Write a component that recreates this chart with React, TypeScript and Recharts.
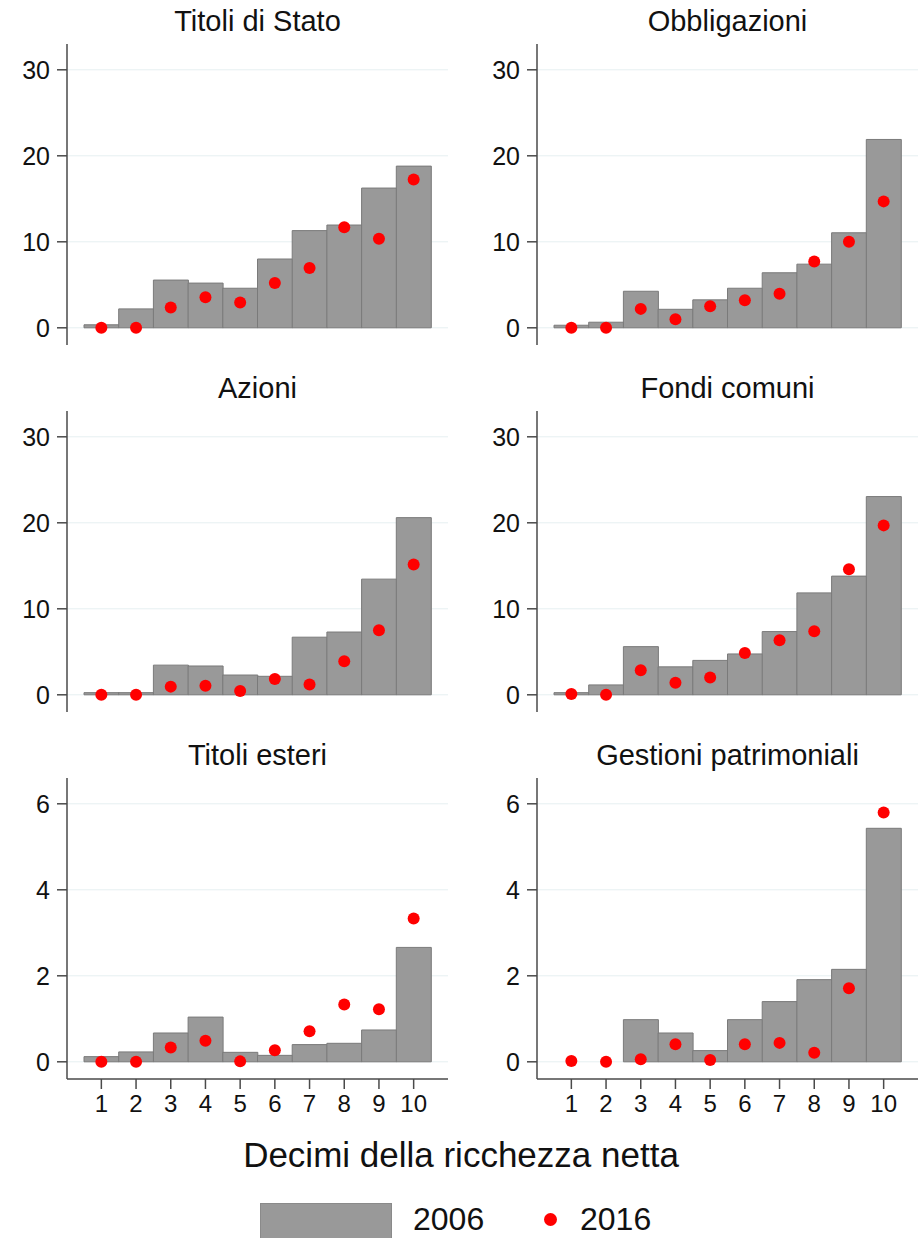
import { ComposedChart, Bar, Scatter, XAxis, YAxis, CartesianGrid } from 'recharts';

const deciles = ['1', '2', '3', '4', '5', '6', '7', '8', '9', '10'];

// quote per decile (2006 = barre, 2016 = punti)
const titoliStato2006 = [0.35, 2.2, 5.55, 5.2, 4.6, 8.0, 11.3, 11.95, 16.25, 18.8];
const titoliStato2016 = [0, 0, 2.35, 3.55, 2.95, 5.2, 6.95, 11.7, 10.35, 17.25];
const obbligazioni2006 = [0.3, 0.65, 4.25, 2.15, 3.25, 4.6, 6.4, 7.4, 11.05, 21.9];
const obbligazioni2016 = [0, 0, 2.2, 1.0, 2.5, 3.2, 3.95, 7.7, 10.0, 14.7];
const azioni2006 = [0.25, 0.25, 3.45, 3.35, 2.3, 2.15, 6.7, 7.3, 13.45, 20.6];
const azioni2016 = [0, 0, 0.95, 1.05, 0.45, 1.85, 1.2, 3.9, 7.5, 15.15];
const fondi2006 = [0.25, 1.15, 5.6, 3.25, 4.0, 4.75, 7.35, 11.85, 13.8, 23.05];
const fondi2016 = [0.1, 0, 2.85, 1.4, 2.0, 4.85, 6.35, 7.4, 14.6, 19.7];
const esteri2006 = [0.12, 0.23, 0.67, 1.04, 0.22, 0.15, 0.4, 0.43, 0.74, 2.66];
const esteri2016 = [0, 0, 0.33, 0.49, 0.01, 0.27, 0.71, 1.33, 1.22, 3.33];
const gestioni2006 = [0, 0, 0.98, 0.67, 0.26, 0.98, 1.4, 1.91, 2.15, 5.43];
const gestioni2016 = [0.02, 0, 0.06, 0.41, 0.04, 0.41, 0.44, 0.21, 1.71, 5.8];

const ticksLarge = [0, 10, 20, 30];
const ticksSmall = [0, 2, 4, 6];

const AXIS = '#4a4a4a';

interface PanelProps {
  title: string;
  y2006: number[];
  y2016: number[];
  ticks: number[];
  domain: [number, number];
  left: number;
  top: number;
  axisWidth: number;
  rightMargin: number;
  showX: boolean;
}

function Panel({ title, y2006, y2016, ticks, domain, left, top, axisWidth, rightMargin, showX }: PanelProps) {
  const data = deciles.map((d, i) => ({ decile: d, y2006: y2006[i], y2016: y2016[i] }));
  const plotWidth = 461 - axisWidth - rightMargin;

  return (
    <>
      <div
        style={{
          position: 'absolute',
          left: left + axisWidth,
          top: top - 37,
          width: plotWidth,
          textAlign: 'center',
          fontSize: 29,
          lineHeight: '29px',
          color: '#111',
          whiteSpace: 'nowrap',
        }}
      >
        {title}
      </div>
      <div style={{ position: 'absolute', left, top: top - 10 }}>
        <ComposedChart
          width={461}
          height={showX ? 356 : 315}
          data={data}
          margin={{ top: 10, right: rightMargin, bottom: showX ? 0 : 4, left: 0 }}
          barCategoryGap={0}
        >
          <CartesianGrid vertical={false} syncWithTicks stroke="#e6eff1" />
          <XAxis
            dataKey="decile"
            hide={!showX}
            padding={{ left: 17, right: 17 }}
            height={45}
            interval={0}
            tickSize={10}
            tickMargin={6}
            axisLine={{ stroke: AXIS, strokeWidth: 1.5 }}
            tickLine={{ stroke: AXIS, strokeWidth: 1.5 }}
            tick={{ fill: '#111', fontSize: 24 }}
          />
          <YAxis
            width={axisWidth}
            domain={domain}
            ticks={ticks}
            tickSize={10}
            tickMargin={7}
            axisLine={{ stroke: AXIS, strokeWidth: 1.5 }}
            tickLine={{ stroke: AXIS, strokeWidth: 1.5 }}
            tick={{ fill: '#111', fontSize: 25 }}
          />
          <Bar dataKey="y2006" fill="#999999" stroke="#7a7a7a" strokeWidth={1} isAnimationActive={false} />
          <Scatter
            dataKey="y2016"
            fill="#ff0000"
            isAnimationActive={false}
            shape={(p: any) => <circle cx={p.cx} cy={p.cy} r={6} fill="#ff0000" />}
          />
        </ComposedChart>
      </div>
    </>
  );
}

export default function App() {
  const big: [number, number] = [-2, 33];
  const small: [number, number] = [-0.4, 6.6];

  return (
    <div
      style={{
        position: 'absolute',
        left: 0,
        top: 0,
        width: 922,
        height: 1238,
        overflow: 'hidden',
        background: '#fff',
        fontFamily: '"Liberation Sans", Arial, sans-serif',
      }}
    >
      <Panel title="Titoli di Stato" y2006={titoliStato2006} y2016={titoliStato2016} ticks={ticksLarge} domain={big}
        left={0} top={44} axisWidth={67} rightMargin={13} showX={false} />
      <Panel title="Obbligazioni" y2006={obbligazioni2006} y2016={obbligazioni2016} ticks={ticksLarge} domain={big}
        left={461} top={44} axisWidth={76} rightMargin={4} showX={false} />
      <Panel title="Azioni" y2006={azioni2006} y2016={azioni2016} ticks={ticksLarge} domain={big}
        left={0} top={411} axisWidth={67} rightMargin={13} showX={false} />
      <Panel title="Fondi comuni" y2006={fondi2006} y2016={fondi2016} ticks={ticksLarge} domain={big}
        left={461} top={411} axisWidth={76} rightMargin={4} showX={false} />
      <Panel title="Titoli esteri" y2006={esteri2006} y2016={esteri2016} ticks={ticksSmall} domain={small}
        left={0} top={778} axisWidth={67} rightMargin={13} showX />
      <Panel title="Gestioni patrimoniali" y2006={gestioni2006} y2016={gestioni2016} ticks={ticksSmall} domain={small}
        left={461} top={778} axisWidth={76} rightMargin={4} showX />

      <div
        style={{
          position: 'absolute',
          left: 0,
          top: 1137,
          width: 922,
          textAlign: 'center',
          fontSize: 35,
          lineHeight: '35px',
          color: '#111',
        }}
      >
        Decimi della ricchezza netta
      </div>

      <div
        style={{
          position: 'absolute',
          left: 260,
          top: 1203,
          width: 130,
          height: 40,
          background: '#999999',
          border: '1px solid #8a8a8a',
        }}
      />
      <div style={{ position: 'absolute', left: 413, top: 1203, fontSize: 32, lineHeight: '32px', color: '#111' }}>2006</div>
      <div
        style={{
          position: 'absolute',
          left: 544,
          top: 1213,
          width: 13,
          height: 13,
          borderRadius: '50%',
          background: '#ff0000',
        }}
      />
      <div style={{ position: 'absolute', left: 580, top: 1203, fontSize: 32, lineHeight: '32px', color: '#111' }}>2016</div>
    </div>
  );
}
